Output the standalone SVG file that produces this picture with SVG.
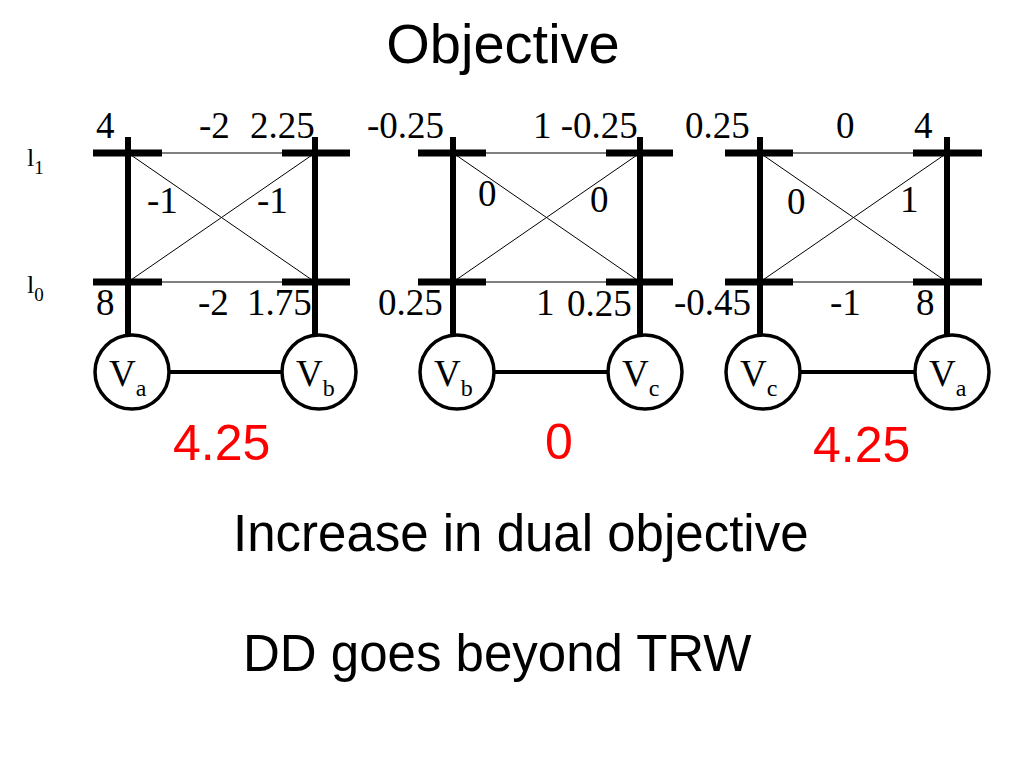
<svg xmlns="http://www.w3.org/2000/svg" width="1024" height="768" viewBox="0 0 1024 768">
<style>
.bg{fill:#ffffff}
.thick{stroke:#000;stroke-width:6;fill:none}
.bar{stroke:#000;stroke-width:7;fill:none}
.thin{stroke:#000;stroke-width:1;fill:none}
.edge{stroke:#000;stroke-width:4;fill:none}
.node{fill:#fff;stroke:#000;stroke-width:3.5}
.num{font-family:"Liberation Serif","Times New Roman",serif;font-size:37px;fill:#000}
.lbl{font-family:"Liberation Serif","Times New Roman",serif;font-size:37px;fill:#000}
.sub{font-family:"Liberation Serif","Times New Roman",serif;font-size:24px;fill:#000}
.lv{font-family:"Liberation Serif","Times New Roman",serif;font-size:26px;fill:#000}
.lvs{font-family:"Liberation Serif","Times New Roman",serif;font-size:19px;fill:#000}
.head{font-family:"Liberation Sans",Arial,sans-serif;fill:#000}
.red{font-family:"Liberation Sans",Arial,sans-serif;font-size:50px;fill:#ff0000}
</style>
<rect class="bg" x="0" y="0" width="1024" height="768"/>

<text class="head" x="503" y="63" font-size="56" text-anchor="middle">Objective</text>

<g id="rowlabels">
<text class="lv" x="27" y="166">l<tspan class="lvs" dy="8">1</tspan></text>
<text class="lv" x="27" y="293">l<tspan class="lvs" dy="8">0</tspan></text>
</g>

<g id="connectors">
<line class="thick" x1="128" y1="137" x2="128" y2="334"/>
<line class="thick" x1="315" y1="137" x2="315" y2="334"/>
<line class="bar" x1="93" y1="153" x2="162" y2="153"/>
<line class="bar" x1="282" y1="153" x2="350" y2="153"/>
<line class="bar" x1="93" y1="282" x2="162" y2="282"/>
<line class="bar" x1="282" y1="282" x2="350" y2="282"/>
<line class="thin" x1="162" y1="153" x2="282" y2="153"/>
<line class="thin" x1="162" y1="282" x2="282" y2="282"/>
<line class="thin" x1="128" y1="153" x2="315" y2="282"/>
<line class="thin" x1="128" y1="282" x2="315" y2="153"/>
<line class="edge" x1="170" y1="372" x2="283" y2="372"/>
<line class="thick" x1="453" y1="137" x2="453" y2="334"/>
<line class="thick" x1="640" y1="137" x2="640" y2="334"/>
<line class="bar" x1="418" y1="153" x2="486" y2="153"/>
<line class="bar" x1="606" y1="153" x2="673" y2="153"/>
<line class="bar" x1="418" y1="282" x2="486" y2="282"/>
<line class="bar" x1="606" y1="282" x2="673" y2="282"/>
<line class="thin" x1="486" y1="153" x2="606" y2="153"/>
<line class="thin" x1="486" y1="282" x2="606" y2="282"/>
<line class="thin" x1="453" y1="153" x2="640" y2="282"/>
<line class="thin" x1="453" y1="282" x2="640" y2="153"/>
<line class="edge" x1="494" y1="372" x2="608" y2="372"/>
<line class="thick" x1="760" y1="137" x2="760" y2="334"/>
<line class="thick" x1="947" y1="137" x2="947" y2="334"/>
<line class="bar" x1="725" y1="153" x2="793" y2="153"/>
<line class="bar" x1="913" y1="153" x2="982" y2="153"/>
<line class="bar" x1="725" y1="282" x2="793" y2="282"/>
<line class="bar" x1="913" y1="282" x2="982" y2="282"/>
<line class="thin" x1="793" y1="153" x2="913" y2="153"/>
<line class="thin" x1="793" y1="282" x2="913" y2="282"/>
<line class="thin" x1="760" y1="153" x2="947" y2="282"/>
<line class="thin" x1="760" y1="282" x2="947" y2="153"/>
<line class="edge" x1="800" y1="372" x2="915" y2="372"/>
</g>

<g id="p1-va">
<circle class="node" cx="132" cy="372" r="37"/>
<text class="lbl" x="109" y="386">V<tspan class="sub" y="396">a</tspan></text>
</g>
<g id="p1-vb">
<circle class="node" cx="319" cy="372" r="37"/>
<text class="lbl" x="296" y="386">V<tspan class="sub" y="396">b</tspan></text>
</g>
<g id="p2-vb">
<circle class="node" cx="457" cy="372" r="37"/>
<text class="lbl" x="434" y="386">V<tspan class="sub" y="396">b</tspan></text>
</g>
<g id="p2-vc">
<circle class="node" cx="645" cy="372" r="37"/>
<text class="lbl" x="622" y="386">V<tspan class="sub" y="396">c</tspan></text>
</g>
<g id="p3-vc">
<circle class="node" cx="763" cy="372" r="37"/>
<text class="lbl" x="740" y="386">V<tspan class="sub" y="396">c</tspan></text>
</g>
<g id="p3-va">
<circle class="node" cx="952" cy="372" r="37"/>
<text class="lbl" x="929" y="386">V<tspan class="sub" y="396">a</tspan></text>
</g>

<g id="p1-numbers">
<text class="num" x="96" y="138">4</text>
<text class="num" x="199" y="138">-2</text>
<text class="num" x="250" y="138">2.25</text>
<text class="num" x="147" y="213">-1</text>
<text class="num" x="257" y="213">-1</text>
<text class="num" x="96" y="315">8</text>
<text class="num" x="198" y="315">-2</text>
<text class="num" x="247" y="315">1.75</text>
</g>
<g id="p2-numbers">
<text class="num" x="367" y="138">-0.25</text>
<text class="num" x="533" y="138">1 -0.25</text>
<text class="num" x="478" y="206">0</text>
<text class="num" x="590" y="212">0</text>
<text class="num" x="378" y="315">0.25</text>
<text class="num" x="536" y="315">1</text>
<text class="num" x="567" y="316">0.25</text>
</g>
<g id="p3-numbers">
<text class="num" x="685" y="138">0.25</text>
<text class="num" x="836" y="138">0</text>
<text class="num" x="914" y="138">4</text>
<text class="num" x="787" y="214">0</text>
<text class="num" x="900" y="212">1</text>
<text class="num" x="674" y="315">-0.45</text>
<text class="num" x="830" y="315">-1</text>
<text class="num" x="916" y="315">8</text>
</g>

<g id="results">
<text class="red" x="173" y="460">4.25</text>
<text class="red" x="545" y="459">0</text>
<text class="red" x="813" y="462">4.25</text>
</g>

<text class="head" x="233" y="551" font-size="51">Increase in dual objective</text>
<text class="head" x="243" y="671" font-size="51">DD goes beyond TRW</text>
</svg>
